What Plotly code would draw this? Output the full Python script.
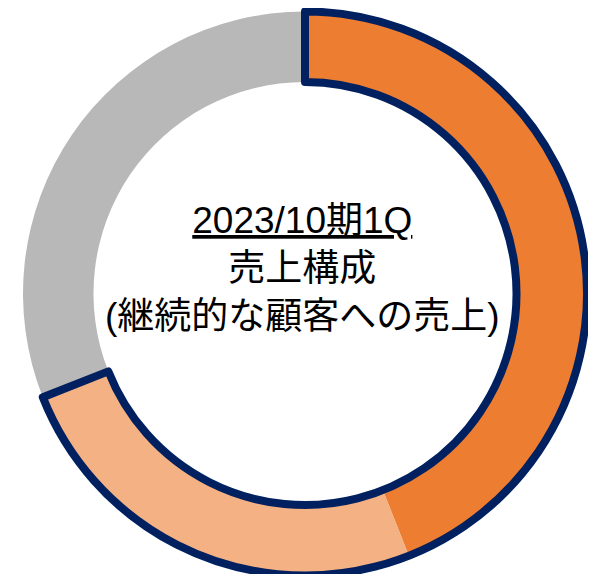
import plotly.graph_objects as go

# Data
categories = ["継続的な顧客への売上(主)", "継続的な顧客への売上(その他)", "その他"]
values = [44, 25, 31]
colors = ["#ED7D31", "#F4B183", "#B8B8B8"]
outline_values = [values[0] + values[1], values[2]]

title_line1 = "2023/10期1Q"
title_line2 = "売上構成"
title_line3 = "(継続的な顧客への売上)"

W, H = 596, 574
OFF = 8  # page body margin offset
cx, cy, r = 305 - OFF, 293.5 - OFF, 282
dom_x = [(cx - r) / W, (cx + r) / W]
dom_y = [1 - (cy + r) / H, 1 - (cy - r) / H]

fig = go.Figure()
fig.add_trace(go.Pie(
    labels=categories, values=values, sort=False, direction="clockwise",
    rotation=0, hole=0.75,
    marker=dict(colors=colors, line=dict(width=0)),
    textinfo="none", hoverinfo="skip", showlegend=False,
    domain=dict(x=dom_x, y=dom_y),
))
fig.add_trace(go.Pie(
    labels=["a", "b"], values=outline_values, sort=False, direction="clockwise",
    rotation=0, hole=0.75,
    marker=dict(colors=["rgba(0,0,0,0)", "rgba(0,0,0,0)"],
                line=dict(width=[8, 0], color=["#002060", "rgba(0,0,0,0)"])),
    textinfo="none", hoverinfo="skip", showlegend=False,
    domain=dict(x=dom_x, y=dom_y),
))

fig.add_annotation(
    text=f"<u>{title_line1}</u><br>{title_line2}<br>{title_line3}",
    x=(302 - OFF) / W, y=1 - (268 - OFF) / H, xref="paper", yref="paper",
    xanchor="center", yanchor="middle", showarrow=False, align="center",
    font=dict(family="Arial, 'Liberation Sans', 'Noto Sans CJK JP'", size=37, color="#000000"),
)

fig.update_layout(
    width=W, height=H, margin=dict(l=0, r=0, t=0, b=0),
    paper_bgcolor="white", plot_bgcolor="white",
)
fig.write_html("out.html")
